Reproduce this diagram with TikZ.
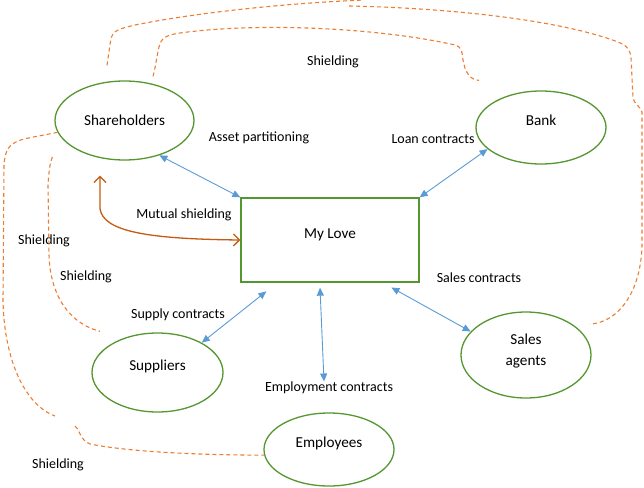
\documentclass[tikz,border=0pt]{standalone}
\usepackage{fontspec}
\setmainfont{Carlito}
\usetikzlibrary{shapes.geometric,arrows.meta}
\definecolor{entgreen}{RGB}{84,150,48}
\definecolor{linkblue}{RGB}{91,155,213}
\definecolor{shieldorange}{RGB}{237,125,49}
\definecolor{mutualorange}{RGB}{197,90,17}

\begin{document}
\begin{tikzpicture}[x=1pt, y=-1pt,
      every node/.style={font=\fontsize{14}{17}\selectfont},
      entity/.style={draw=entgreen, line width=1.3pt, ellipse, inner sep=0pt,
        minimum width=130pt, minimum height=73pt, text height=11pt, text depth=15pt,
        font=\fontsize{15.2}{21}\selectfont},
      firm/.style={draw=entgreen, line width=1.3pt, inner sep=0pt,
        minimum width=178pt, minimum height=84pt, text height=11pt, text depth=15pt,
        font=\fontsize{15.2}{21}\selectfont},
      link/.style={{Triangle[length=8pt,width=7pt]}-{Triangle[length=8pt,width=7pt]},
        linkblue, line width=0.9pt},
      mutual/.style={{Straight Barb[length=6pt,width=12pt]}-{Straight Barb[length=6pt,width=12pt]},
        mutualorange, line width=1.3pt},
      shield/.style={shieldorange, line width=1.1pt, dash pattern=on 4pt off 3pt},
    ]
    \useasboundingbox (0,0) rectangle (644,487);

    \node[entity, minimum width=139pt, minimum height=79pt, text height=14pt, text depth=4pt]
      (share) at (124.5,120.5) {Shareholders};
    \node[entity] (bank)  at (541,127.5) {Bank};
    \node[firm]   (firm)  at (330,240)   {My Love};
    \node[entity, minimum height=86pt, align=center, text height=35pt] (sales) at (526,355) {Sales\\agents};
    \node[entity, minimum width=131pt, minimum height=79pt] (sup) at (157.5,372.5) {Suppliers};
    \node[entity] (emp)   at (329,449.5) {Employees};

    % Labels
    \node (lshield)  at (333,62)  {Shielding};
    \node (lasset)   at (259,138) {Asset partitioning};
    \node (lloan)    at (433,139) {Loan contracts};
    \node (lmutual)  at (184,215) {Mutual shielding};
    \node (lshieldA) at (44,241)  {Shielding};
    \node (lshieldB) at (86,277)  {Shielding};
    \node (lsales)   at (479,278) {Sales contracts};
    \node (lsupply)  at (178,315) {Supply contracts};
    \node (lemploy)  at (329,388) {Employment contracts};
    \node (lshieldC) at (58,465)  {Shielding};

    % Contracts
    \draw[link] (share.-45) -- (firm.north west);
    \draw[link] (bank.202) -- (firm.north east);
    \draw[link, shorten >=14pt] (sup.34) -- (firm.-141);
    \draw[link, shorten >=10pt] (sales.157) -- (firm.-39);
    \draw[link] ([xshift=-10pt, yshift=-5pt]firm.south) -- ([xshift=-5pt, yshift=-3pt]lemploy.north);

    % Mutual shielding
    \draw[mutual] ([xshift=-24.5pt, yshift=-15pt]share.south) -- ++(0,33)
      .. controls (103,232) and (150,239) .. (firm.west);

    % Shielding (dashed)
    \draw[shield] ([shift={(-17.5,-15)}]share.north) -- (111,38)
      .. controls (113,31) and (118,29) .. (135,25)
      .. controls (200,12) and (290,3) .. (364,0);
    \draw[shield] (349,6) .. controls (450,8) and (560,20) .. (618,42)
      .. controls (628,46) and (630,50) .. (631,58) -- (633,98)
      .. controls (634,104) and (640,106) .. (642,112) -- (642,245)
      .. controls (641,290) and (620,322) .. ([shift={(11,-5)}]sales.26);
    \draw[shield] ([shift={(28.5,-4)}]share.north)
      .. controls (156,65) and (157,55) .. (159,47)
      .. controls (161,38) and (166,35) .. (180,33)
      .. controls (260,22) and (380,28) .. (455,45)
      .. controls (462,47) and (462,52) .. (463,60)
      .. controls (465,72) and (470,80) .. ([shift={(-62,-10)}]bank.north);
    \draw[shield] (share.190) .. controls (40,136) and (25,138) .. (18,141)
      .. controls (9,145) and (5,150) .. (4,165) -- (3,300)
      .. controls (4,360) and (25,405) .. (55,416);
    \draw[shield] (75,426) .. controls (80,430) and (80,440) .. (90,444)
      .. controls (130,452) and (200,455) .. (emp.185);
    \draw[shield] ([shift={(-2,36.5)}]share.west)
      .. controls (50,163) and (49,170) .. (48,185) -- (49,255)
      .. controls (50,290) and (65,322) .. ([shift={(-57.5,-1)}]sup.north);
  \end{tikzpicture}
\end{document}
